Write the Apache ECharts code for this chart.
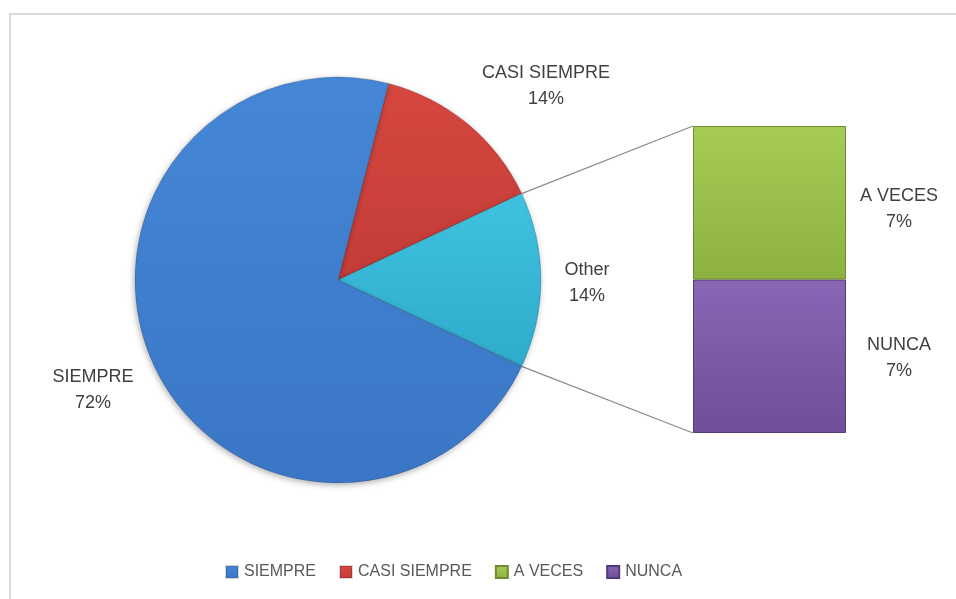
<!DOCTYPE html>
<html>
<head>
<meta charset="utf-8">
<script src="https://cdn.jsdelivr.net/npm/echarts@6/dist/echarts.min.js"></script>
<style>
html, body { margin: 0; padding: 0; background: #fff; }
#main { width: 956px; height: 599px; }
</style>
</head>
<body>
<div id="main"></div>
<script>
// datos del grafico (circular con barra)
var pieNames = ['CASI SIEMPRE', 'Other', 'SIEMPRE'];
var pieValues = [14, 14, 72];
var barNames = ['NUNCA', 'A VECES'];   // de abajo hacia arriba
var barValues = [7, 7];
var legendNames = ['SIEMPRE', 'CASI SIEMPRE', 'A VECES', 'NUNCA'];

var colores = {
    'SIEMPRE': ['#4587d6', '#3a76c6'],
    'CASI SIEMPRE': ['#d6473f', '#c33c38'],
    'Other': ['#3fc2e0', '#30abcc'],
    'A VECES': ['#a6cc55', '#8cb13f'],
    'NUNCA': ['#8866b4', '#6e4f98']
};
var bordes = { 'A VECES': '#6f8c34', 'NUNCA': '#55397a' };
var offsetLabel = { 'A VECES': 6, 'NUNCA': 2 };

// posicion del circulo y de la barra
var cx = 338, cy = 280, r = 203;
var barLeft = 693, barTop = 126, barW = 153, barH = 307;

function grad(c, x2, y2) {
    return new echarts.graphic.LinearGradient(0, 0, x2, y2, [
        { offset: 0, color: c[0] }, { offset: 1, color: c[1] }
    ]);
}

function init() {
    var n = echarts.init(document.getElementById('main'));
    var total = 0;
    for (var i = 0; i < pieValues.length; i++) total += pieValues[i];
    // "Other" centrado sobre el eje horizontal
    var otherAng = pieValues[1] / total * 360;
    var startAngle = otherAng / 2 + pieValues[0] / total * 360;

    // lineas que unen el sector "Other" con la barra
    var a = otherAng / 2 * Math.PI / 180;
    var px = cx + r * Math.cos(a), pyTop = cy - r * Math.sin(a), pyBot = cy + r * Math.sin(a);

    var pieData = [];
    for (var i = 0; i < pieNames.length; i++) {
        pieData.push({ name: pieNames[i], value: pieValues[i], itemStyle: { color: grad(colores[pieNames[i]], 0, 1) } });
    }
    var labelPos = {
        'CASI SIEMPRE': [546, 86],
        'Other': [587, 283],
        'SIEMPRE': [93, 390]
    };

    var series = [{
        type: 'pie',
        center: [cx, cy],
        radius: r,
        startAngle: startAngle,
        clockwise: true,
        data: pieData,
        itemStyle: {
            borderColor: 'rgba(0,0,0,0.15)', borderWidth: 1,
            shadowBlur: 6, shadowColor: 'rgba(0,0,0,0.3)', shadowOffsetX: -1, shadowOffsetY: 2
        },
        emphasis: { disabled: true },
        label: {
            show: true, position: 'outside',
            formatter: '{b}\n{d}%',
            color: '#404040', fontSize: 18, lineHeight: 26,
            fontFamily: 'Liberation Sans', align: 'center'
        },
        labelLine: { show: false },
        labelLayout: function (p) {
            var pos = labelPos[pieNames[p.dataIndex]];
            return { x: pos[0], y: pos[1], align: 'center', verticalAlign: 'middle' };
        }
    }];
    for (var j = 0; j < barNames.length; j++) {
        series.push({
            name: barNames[j],
            type: 'bar',
            stack: 'otro',
            barWidth: '100%',
            data: [barValues[j]],
            itemStyle: {
                color: grad(colores[barNames[j]], 0, 1),
                borderColor: bordes[barNames[j]], borderWidth: 1
            },
            emphasis: { disabled: true },
            label: {
                show: true, position: 'right', distance: 53, align: 'center',
                offset: [0, offsetLabel[barNames[j]]],
                formatter: '{a}\n{c}%',
                color: '#404040', fontSize: 18, lineHeight: 26, fontFamily: 'Liberation Sans'
            }
        });
    }

    n.setOption({
        backgroundColor: '#fff',
        animation: false,
        legend: {
            data: legendNames,
            left: 220, top: 559,
            icon: 'rect', itemWidth: 12, itemHeight: 12, itemGap: 23,
            textStyle: { color: '#595959', fontSize: 16, fontFamily: 'Liberation Sans', padding: [0, 0, 0, 1] }
        },
        grid: { left: barLeft, top: barTop, width: barW, height: barH },
        xAxis: { type: 'category', data: [''], show: false },
        yAxis: { type: 'value', min: 0, max: barValues[0] + barValues[1], show: false },
        graphic: [
            { type: 'rect', shape: { x: 10, y: 14, width: 960, height: 600 }, style: { fill: 'none', stroke: '#d9d9d9', lineWidth: 2 }, silent: true },
            { type: 'line', shape: { x1: px, y1: pyTop, x2: barLeft, y2: barTop }, style: { stroke: '#8c8c8c', lineWidth: 1.3 } },
            { type: 'line', shape: { x1: px, y1: pyBot, x2: barLeft, y2: barTop + barH }, style: { stroke: '#8c8c8c', lineWidth: 1.3 } }
        ],
        series: series
    });
}
init();
</script>
</body>
</html>
